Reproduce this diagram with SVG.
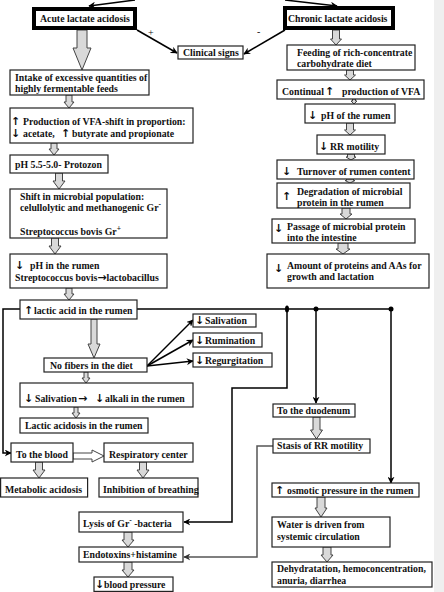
<svg xmlns="http://www.w3.org/2000/svg" width="444" height="592" viewBox="0 0 444 592">
<style>
.box{fill:#fff;stroke:#222;stroke-width:1.2}
.thick{fill:#fff;stroke:#000;stroke-width:4}
.t{font-family:"Liberation Serif","DejaVu Serif",serif;font-weight:bold;font-size:9.8px;fill:#111}
.ar{font-family:"DejaVu Sans",sans-serif;font-weight:bold;font-size:11px}
.sup{font-size:7.5px}
.s{font-family:"Liberation Serif","DejaVu Serif",serif;font-size:10px;fill:#111}
.hol{fill:#d9d9d9;stroke:#444;stroke-width:1}
.ln{stroke:#000;stroke-width:1.5;fill:none}
.lg{stroke:#555;stroke-width:1.5;fill:none}
.dot{fill:#000}
</style>
<defs>
<marker id="ah" viewBox="0 0 10 10" refX="9" refY="5" markerWidth="7" markerHeight="7" markerUnits="userSpaceOnUse" orient="auto">
<path d="M0,0 L10,5 L0,10 L3,5 Z" fill="#000"/>
</marker>
<marker id="ahg" viewBox="0 0 10 10" refX="9" refY="5" markerWidth="7" markerHeight="7" markerUnits="userSpaceOnUse" orient="auto">
<path d="M0,0 L10,5 L0,10 L3,5 Z" fill="#333"/>
</marker>
</defs>
<rect x="434" y="0" width="10" height="592" fill="#efefef"/>

<g id="connectors">
<line class="ln" x1="135" y1="0" x2="89" y2="6" marker-end="url(#ah)"/>
<line class="ln" x1="285" y1="0" x2="337" y2="6" marker-end="url(#ah)"/>
<line class="ln" x1="137" y1="30" x2="177" y2="53" marker-end="url(#ah)"/>
<line class="ln" x1="285" y1="30" x2="244" y2="54" marker-end="url(#ah)"/>
<text class="s" x="148" y="36">+</text>
<text class="s" x="257" y="35">-</text>
<line class="ln" x1="147" y1="210" x2="119" y2="225" stroke-width="1.2" marker-end="url(#ah)"/>
<polyline class="ln" points="20,309 3,309 3,453 11,453" marker-end="url(#ah)"/>
<line class="ln" x1="137" y1="309" x2="391" y2="309"/>
<ellipse class="dot" cx="287" cy="309" rx="2" ry="3.5"/>
<circle class="dot" cx="316" cy="309" r="2.5"/>
<circle class="dot" cx="391" cy="309" r="2.5"/>
<polyline class="ln" points="287,309 287,388 232,388 232,522 184,522" marker-end="url(#ah)"/>
<line class="ln" x1="316" y1="309" x2="316" y2="403" marker-end="url(#ah)"/>
<line class="ln" x1="391" y1="309" x2="391" y2="483" marker-end="url(#ah)"/>
<polyline class="lg" points="273,446 257,446 257,557 184,557" marker-end="url(#ahg)"/>
<line class="ln" x1="147" y1="366" x2="193" y2="320" marker-end="url(#ah)"/>
<line class="ln" x1="147" y1="366" x2="193" y2="340" marker-end="url(#ah)"/>
<line class="ln" x1="147" y1="366" x2="193" y2="361" marker-end="url(#ah)"/>
<polygon class="hol" points="77,30 87,30 87,48 91,48 82,70 73,48 77,48"/>
<polygon class="hol" points="66,95 72,95 72,102 74,102 69,108 64,102 66,102"/>
<polygon class="hol" points="51,143 57,143 57,149 59,149 54,155 49,149 51,149"/>
<polygon class="hol" points="55.5,173 62.5,173 62.5,181 65,181 59,189 53,181 55.5,181"/>
<polygon class="hol" points="51.5,238 58.5,238 58.5,246 61,246 55,254 49,246 51.5,246"/>
<polygon class="hol" points="66,288 72,288 72,294 74,294 69,300 64,294 66,294"/>
<polygon class="hol" points="91,319 97,319 97,344 100,344 94,358 88,344 91,344"/>
<polygon class="hol" points="84,372 88,372 88,378 90,378 86,383 82,378 84,378"/>
<polygon class="hol" points="74,407 78,407 78,413 80,413 76,418 72,413 74,413"/>
<polygon class="hol" points="35.5,462 42.5,462 42.5,470 45,470 39,478 33,470 35.5,470"/>
<polygon class="hol" points="139.5,462 146.5,462 146.5,470 149,470 143,478 137,470 139.5,470"/>
<polygon class="hol" points="73,453 92,453 92,450 104,456 92,462 92,459 73,459" style="fill:#fff"/>
<polygon class="hol" points="124,532 132,532 132,540 134,540 128,547 122,540 124,540"/>
<polygon class="hol" points="124,562 132,562 132,570 134,570 128,577 122,570 124,570"/>
<polygon class="hol" points="332.5,30 339.5,30 339.5,39 341.5,39 336,45 330.5,39 332.5,39"/>
<polygon class="hol" points="346.5,70 353.5,70 353.5,75 355.5,75 350,80 344.5,75 346.5,75"/>
<polygon class="hol" points="352.5,99 355.5,99 355.5,101 357,101 354,104 351,101 352.5,101"/>
<polygon class="hol" points="346.5,123 353.5,123 353.5,130 355.5,130 350,135 344.5,130 346.5,130"/>
<polygon class="hol" points="347.5,154 354.5,154 354.5,157 356,157 351,160 346,157 347.5,157"/>
<polygon class="hol" points="346.5,179 353.5,179 353.5,180.5 355,180.5 350,183 345,180.5 346.5,180.5"/>
<polygon class="hol" points="342,208 350,208 350,214 352,214 346,219 340,214 342,214"/>
<polygon class="hol" points="338,243 348,243 348,249 350,249 343,254 336,249 338,249"/>
<polygon class="hol" points="313,417 320,417 320,430 322.5,430 316.5,439 310.5,430 313,430"/>
<polygon class="hol" points="317,497 325,497 325,508 327,508 321,517 315,508 317,508"/>
<polygon class="hol" points="323,547 331,547 331,555 333,555 327,562 321,555 323,555"/>
</g>

<g id="acute"><rect class="thick" x="34" y="9" width="101" height="19"/><text class="t" x="40" y="22">Acute lactate acidosis</text></g>
<g id="chronic"><rect class="thick" x="285" y="8" width="108" height="20"/><text class="t" x="288" y="22">Chronic lactate acidosis</text></g>
<g id="clinical"><rect class="box" x="178" y="46" width="65" height="13"/><text class="t" x="183" y="56">Clinical signs</text></g>

<g id="intake"><rect class="box" x="10" y="70" width="139" height="25"/><text class="t" x="15" y="81">Intake of excessive quantities of</text><text class="t" x="15" y="92">highly fermentable feeds</text></g>
<g id="production"><rect class="box" x="10" y="108" width="183" height="35"/><text class="t" x="11" y="125"><tspan class="ar">↑</tspan><tspan x="23">Production of VFA-shift in proportion:</tspan></text><text class="t" x="11" y="137"><tspan class="ar">↓</tspan><tspan x="23">acetate,</tspan><tspan class="ar" x="61">↑</tspan><tspan x="72">butyrate and propionate</tspan></text></g>
<g id="ph55"><rect class="box" x="10" y="155" width="98" height="18"/><text class="t" x="15" y="168">pH 5.5-5.0- Protozon</text></g>
<g id="shift"><rect class="box" x="10" y="189" width="157" height="49"/><text class="t" x="20" y="200">Shift in microbial population:</text><text class="t" x="20" y="211">celullolytic and methanogenic Gr<tspan class="sup" dy="-4">-</tspan></text><text class="t" x="20" y="235">Streptococcus bovis Gr<tspan class="sup" dy="-4">+</tspan></text></g>
<g id="phrumen"><rect class="box" x="10" y="254" width="157" height="34"/><text class="t" x="15" y="269"><tspan class="ar">↓</tspan><tspan x="30">pH in the rumen</tspan></text><text class="t" x="15" y="281">Streptococcus bovis<tspan class="ar" font-size="9.5">→</tspan>lactobacillus</text></g>
<g id="lactic"><rect class="box" x="20" y="300" width="117" height="19"/><text class="t" x="24" y="314"><tspan class="ar">↑</tspan><tspan x="34">lactic acid in the rumen</tspan></text></g>
<g id="nofibers"><rect class="box" x="44" y="358" width="103" height="14"/><text class="t" x="50" y="369">No fibers in the diet</text></g>
<g id="salivation"><rect class="box" x="193" y="314" width="63" height="13"/><text class="t" x="195" y="324"><tspan class="ar">↓</tspan><tspan x="205">Salivation</tspan></text></g>
<g id="rumination"><rect class="box" x="193" y="333" width="69" height="14"/><text class="t" x="195" y="344"><tspan class="ar">↓</tspan><tspan x="205">Rumination</tspan></text></g>
<g id="regurgitation"><rect class="box" x="193" y="353" width="79" height="14"/><text class="t" x="195" y="364"><tspan class="ar">↓</tspan><tspan x="205">Regurgitation</tspan></text></g>
<g id="alkali"><rect class="box" x="20" y="383" width="173" height="24"/><text class="t" x="24" y="402"><tspan class="ar">↓</tspan><tspan x="35">Salivation</tspan><tspan class="ar" x="78" font-size="9.5">→</tspan><tspan class="ar" x="95">↓</tspan><tspan x="105">alkali in the rumen</tspan></text></g>
<g id="acidosis"><rect class="box" x="20" y="418" width="128" height="15"/><text class="t" x="25" y="429">Lactic acidosis in the rumen</text></g>
<g id="blood"><rect class="box" x="11" y="443" width="62" height="19"/><text class="t" x="16" y="458">To the  blood</text></g>
<g id="respiratory"><rect class="box" x="104" y="443" width="89" height="19"/><text class="t" x="109" y="458">Respiratory center</text></g>
<g id="metabolic"><rect class="box" x="0.6" y="478" width="87" height="19"/><text class="t" x="5" y="493">Metabolic acidosis</text></g>
<g id="inhibition"><rect class="box" x="99" y="478" width="99" height="19"/><text class="t" x="103" y="493">Inhibition of breathing</text></g>
<g id="lysis"><rect class="box" x="79" y="512" width="104" height="20"/><text class="t" x="83" y="527">Lysis of Gr<tspan class="sup" dy="-4">-</tspan><tspan dy="4"> -bacteria</tspan></text></g>
<g id="endotoxins"><rect class="box" x="79" y="547" width="104" height="15"/><text class="t" x="83" y="558">Endotoxins+histamine</text></g>
<g id="bp"><rect class="box" x="94" y="577" width="79" height="14.4"/><text class="t" x="95" y="588"><tspan class="ar">↓</tspan><tspan x="104">blood pressure</tspan></text></g>

<g id="feeding"><rect class="box" x="287" y="45" width="128" height="25"/><text class="t" x="297" y="56">Feeding of rich-concentrate</text><text class="t" x="297" y="67">carbohydrate diet</text></g>
<g id="continual"><rect class="box" x="277" y="80" width="147" height="19"/><text class="t" x="282" y="95">Continual <tspan class="ar" x="325">↑</tspan><tspan x="342">production of VFA</tspan></text></g>
<g id="phof"><rect class="box" x="305" y="104" width="90" height="19"/><text class="t" x="308" y="119"><tspan class="ar">↓</tspan><tspan x="321">pH of the rumen</tspan></text></g>
<g id="rr"><rect class="box" x="317" y="135" width="68" height="19"/><text class="t" x="319" y="150"><tspan class="ar">↓</tspan><tspan x="330">RR motility</tspan></text></g>
<g id="turnover"><rect class="box" x="277" y="160" width="137" height="19"/><text class="t" x="282" y="175"><tspan class="ar">↓</tspan><tspan x="297">Turnover of rumen content</tspan></text></g>
<g id="degradation"><rect class="box" x="277" y="183" width="133" height="25"/><text class="t ar" x="282" y="200">↑</text><text class="t" x="297" y="195">Degradation of microbial</text><text class="t" x="297" y="206">protein in the rumen</text></g>
<g id="passage"><rect class="box" x="272" y="219" width="143" height="24"/><text class="t" x="274" y="232"><tspan class="ar">↓</tspan></text><text class="t" x="287" y="230">Passage of microbial protein</text><text class="t" x="287" y="241">into the intestine</text></g>
<g id="amount"><rect class="box" x="267" y="254" width="162" height="34"/><text class="t" x="274" y="272"><tspan class="ar">↓</tspan></text><text class="t" x="287" y="269">Amount of proteins and AAs for</text><text class="t" x="287" y="280">growth and lactation</text></g>
<g id="duodenum"><rect class="box" x="273" y="404" width="82" height="13"/><text class="t" x="277" y="414">To the duodenum</text></g>
<g id="stasis"><rect class="box" x="273" y="439" width="97" height="14"/><text class="t" x="277" y="449">Stasis of RR motility</text></g>
<g id="osmotic"><rect class="box" x="272" y="483" width="147" height="14"/><text class="t" x="275" y="494"><tspan class="ar">↑</tspan><tspan x="287">osmotic pressure in the rumen</tspan></text></g>
<g id="water"><rect class="box" x="272" y="517" width="118" height="30"/><text class="t" x="277" y="528">Water is driven from</text><text class="t" x="277" y="540">systemic circulation</text></g>
<g id="dehydratation"><rect class="box" x="272" y="562" width="160" height="25"/><text class="t" x="277" y="572">Dehydratation, hemoconcentration,</text><text class="t" x="277" y="584">anuria, diarrhea</text></g>
</svg>
